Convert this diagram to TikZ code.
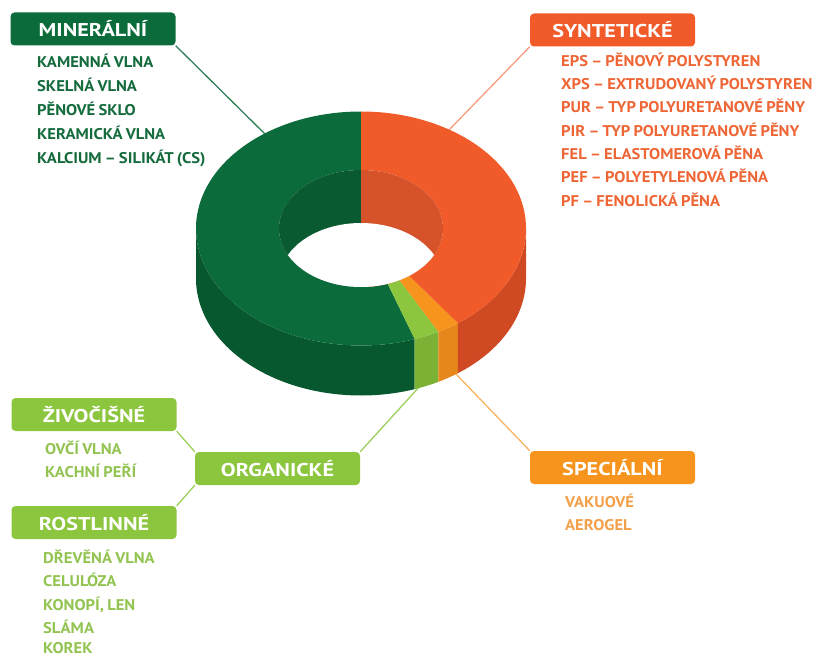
\documentclass[tikz,border=0pt]{standalone}
\usepackage{fontspec}
\setmainfont{PT Sans}
\newfontfamily\ttlfam{PT Sans}[FakeStretch=1.2]
\newfontfamily\itmfam{PT Sans}[FakeStretch=1.07]
\usetikzlibrary{calc}
\definecolor{mgreen}{HTML}{0B6B3A}
\definecolor{mgreenside}{HTML}{07582F}
\definecolor{mgreenwall}{HTML}{0A5A31}
\definecolor{sred}{HTML}{F15A29}
\definecolor{sredside}{HTML}{CF4A22}
\definecolor{sredwall}{HTML}{D6522A}
\definecolor{lgreen}{HTML}{8CC63F}
\definecolor{lgreenside}{HTML}{7BB236}
\definecolor{sorange}{HTML}{F7941D}
\definecolor{sorangeside}{HTML}{E5871A}
\definecolor{mtext}{HTML}{146B3C}
\definecolor{stext}{HTML}{EE6636}
\definecolor{otext}{HTML}{93C452}
\definecolor{ptext}{HTML}{F2A04A}
\newcommand\ttlfont{\ttlfam\fontsize{18.5}{21}\selectfont\bfseries}
\newcommand\itmfont{\itmfam\fontsize{15.5}{18}\selectfont\bfseries\spaceskip=3.2pt plus 1pt}
\newcommand\Ro{165}
\newcommand\ro{117}
\newcommand\Ri{82}
\newcommand\ri{58.5}
\newcommand\Hh{50}
\newcommand\sidewall[3]{\fill[#1] ($(C)+(#2:\Ro pt and \ro pt)$) arc[start angle=#2,end angle=#3,x radius=\Ro pt,y radius=\ro pt] -- ++(0,-\Hh) arc[start angle=#3,end angle=#2,x radius=\Ro pt,y radius=\ro pt] -- cycle;}
\newcommand\topslice[3]{\fill[#1] ($(C)+(#2:\Ro pt and \ro pt)$) arc[start angle=#2,end angle=#3,x radius=\Ro pt,y radius=\ro pt] -- ($(C)+(#3:\Ri pt and \ri pt)$) arc[start angle=#3,end angle=#2,x radius=\Ri pt,y radius=\ri pt] -- cycle;}
\begin{document}
\begin{tikzpicture}[x=1pt,y=1pt,
  box/.style={rounded corners=4pt, minimum width=165pt, minimum height=33pt, text=white, font=\ttlfont, inner sep=0pt},
  item/.style={anchor=base west, inner sep=0pt, font=\itmfont},
  conn/.style={line width=1.3pt}]
\useasboundingbox (0,0) rectangle (816,657);
\clip (0,0) rectangle (816,657);
% boxes
\node[box, fill=mgreen] (min) at (93,628) {MINERÁLNÍ};
\node[box, fill=sred] (syn) at (612.5,627) {SYNTETICKÉ};
\node[box, fill=lgreen] (org) at (277.5,188.5) {ORGANICKÉ};
\node[box, fill=lgreen] (ziv) at (94,242.5) {ŽIVOČIŠNÉ};
\node[box, fill=lgreen] (rost) at (94,134.5) {ROSTLINNÉ};
\node[box, fill=sorange] (spec) at (612.5,189.5) {SPECIÁLNÍ};
% donut anchor points
\coordinate (C) at (361,428.5);
\coordinate (dM) at (266,522);
\coordinate (dS) at (448,526);
\coordinate (dO) at (420,271);
\coordinate (dP) at (455,284);
% connectors
\draw[conn, mgreen!85!white] (min.south east) -- (dM);
\draw[conn, sred!60!white] (syn.south west) -- (dS);
\draw[conn, sorange!70!white] (spec.north west) -- (dP);
\draw[conn, lgreen!85!white] (org.north east) -- (dO);
\draw[conn, lgreen!85!white] (ziv.south east) -- (org.north west);
\draw[conn, lgreen!85!white] (org.south west) -- (rost.north east);
% donut side walls
\sidewall{mgreenside}{180}{289}
\sidewall{lgreenside}{289}{298}
\sidewall{sorangeside}{298}{306}
\sidewall{sredside}{306}{360}
% top surfaces
\topslice{mgreen}{90}{289}
\topslice{lgreen}{289}{298}
\topslice{sorange}{298}{306}
\topslice{sred}{306}{450}
% hole
\begin{scope}
\clip (C) ellipse[x radius=\Ri pt, y radius=\ri pt];
\fill[mgreenwall] ($(C)+(-90,-70)$) rectangle ($(C)+(0,70)$);
\fill[sredwall] ($(C)+(0,-70)$) rectangle ($(C)+(90,70)$);
\fill[white] ($(C)+(0,-53)$) ellipse[x radius=\Ri pt, y radius=\ri pt];
\end{scope}
% lists
\begin{scope}[every node/.append style={item, text=mtext}]
\node (m1) at (37,589) {KAMENNÁ VLNA};
\node (m2) at (37,565) {SKELNÁ VLNA};
\node (m3) at (37,541) {PĚNOVÉ SKLO};
\node (m4) at (37,517) {KERAMICKÁ VLNA};
\node (m5) at (37,493) {KALCIUM – SILIKÁT (CS)};
\end{scope}
\begin{scope}[every node/.append style={item, text=stext}]
\node (s1) at (561,590) {EPS – PĚNOVÝ POLYSTYREN};
\node (s2) at (561,567) {XPS – EXTRUDOVANÝ POLYSTYREN};
\node (s3) at (561,544) {PUR – TYP POLYURETANOVÉ PĚNY};
\node (s4) at (561,520) {PIR – TYP POLYURETANOVÉ PĚNY};
\node (s5) at (561,497) {FEL – ELASTOMEROVÁ PĚNA};
\node (s6) at (561,474) {PEF – POLYETYLENOVÁ PĚNA};
\node (s7) at (561,450) {PF – FENOLICKÁ PĚNA};
\end{scope}
\begin{scope}[every node/.append style={item, text=otext}]
\node (z1) at (45,203) {OVČÍ VLNA};
\node (z2) at (45,180) {KACHNÍ PEŘÍ};
\node (r1) at (43,94) {DŘEVĚNÁ VLNA};
\node (r2) at (43,71) {CELULÓZA};
\node (r3) at (43,47) {KONOPÍ, LEN};
\node (r4) at (43,24) {SLÁMA};
\node (r5) at (43,3.5) {KOREK};
\end{scope}
\begin{scope}[every node/.append style={item, text=ptext}]
\node (p1) at (565,150) {VAKUOVÉ};
\node (p2) at (565,127) {AEROGEL};
\end{scope}
\end{tikzpicture}
\end{document}
